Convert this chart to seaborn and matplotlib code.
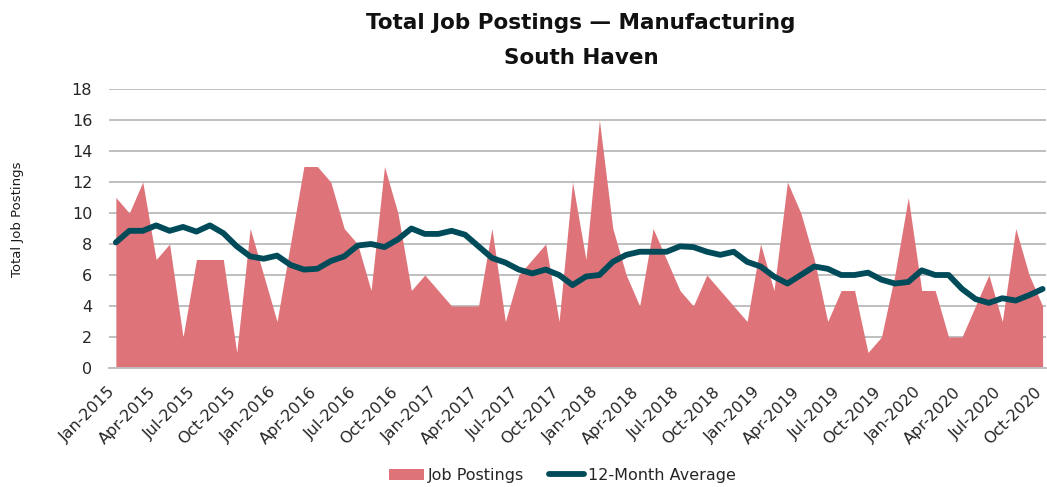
import numpy as np
import pandas as pd
import matplotlib
matplotlib.use("Agg")
import matplotlib.pyplot as plt
from matplotlib.patches import Patch
from matplotlib.lines import Line2D
import seaborn as sns

# Monthly categories, Jan-2015 through Oct-2020
months = pd.date_range("2015-01-01", "2020-10-01", freq="MS").strftime("%b-%Y").tolist()

# Monthly job postings
job_postings = [
    11, 10, 12, 7, 8, 2, 7, 7, 7, 1, 9, 6,
    3, 8, 13, 13, 12, 9, 8, 5, 13, 10, 5, 6,
    5, 4, 4, 4, 9, 3, 6, 7, 8, 3, 12, 7,
    16, 9, 6, 4, 9, 7, 5, 4, 6, 5, 4, 3,
    8, 5, 12, 10, 7, 3, 5, 5, 1, 2, 6, 11,
    5, 5, 2, 2, 4, 6, 3, 9, 6, 4,
]

# Rolling 12-month average
avg_12m = [
    8.1, 8.85, 8.85, 9.2, 8.85, 9.1, 8.8, 9.2, 8.7, 7.85, 7.2, 7.05,
    7.25, 6.65, 6.35, 6.4, 6.9, 7.2, 7.9, 8.0, 7.8, 8.3, 9.0, 8.65,
    8.65, 8.85, 8.6, 7.85, 7.1, 6.8, 6.35, 6.1, 6.35, 6.0, 5.35, 5.9,
    6.0, 6.85, 7.3, 7.5, 7.5, 7.5, 7.85, 7.8, 7.5, 7.3, 7.5, 6.85,
    6.55, 5.9, 5.45, 6.0, 6.55, 6.4, 6.0, 6.0, 6.15, 5.7, 5.45, 5.55,
    6.3, 6.0, 6.0, 5.1, 4.45, 4.2, 4.5, 4.35, 4.7, 5.1,
]

title_line1 = "Total Job Postings \u2014 Manufacturing"
title_line2 = "South Haven"
y_label = "Total Job Postings"
legend_labels = ["Job Postings", "12-Month Average"]

AREA_COLOR = "#DE7479"
LINE_COLOR = "#004B5A"
GRID_COLOR = "#BFBFBF"
TEXT_COLOR = "#262626"

df = pd.DataFrame({"idx": np.arange(len(months)), "month": months,
                   "postings": job_postings, "avg": avg_12m})

sns.set_theme(style="white")
plt.rcParams["font.family"] = ["DejaVu Sans"]

fig = plt.figure(figsize=(10.47, 4.87), dpi=100)
ax = fig.add_axes([0.104, 0.2444, 0.895, 0.5728])

ax.fill_between(df["idx"], 0, df["postings"], color=AREA_COLOR, linewidth=0, zorder=2)
sns.lineplot(data=df, x="idx", y="avg", ax=ax, color=LINE_COLOR, linewidth=4.2,
             solid_capstyle="round", solid_joinstyle="round", zorder=3, legend=False)

ax.set_xlim(-0.52, len(months) - 1 + 0.25)
ax.set_ylim(0, 18)
ax.set_yticks(np.arange(0, 19, 2))
ax.yaxis.grid(True, color=GRID_COLOR, linewidth=1.4, zorder=0)
ax.set_axisbelow(True)

# Month labels every quarter, rotated so each one ends at its tick
tick_pos = df["idx"].iloc[::3]
ax.set_xticks(tick_pos)
ax.set_xticklabels(df["month"].iloc[::3], rotation=45, ha="right", va="baseline",
                   rotation_mode="anchor", fontsize=11.5, color=TEXT_COLOR)
ax.tick_params(axis="x", length=0, pad=18)
ax.tick_params(axis="y", length=0, pad=12, labelsize=11.5, labelcolor=TEXT_COLOR)

for side in ["top", "right", "left"]:
    ax.spines[side].set_visible(False)
ax.spines["bottom"].set_color(GRID_COLOR)
ax.spines["bottom"].set_linewidth(1.4)

ax.set_xlabel("")
ax.set_ylabel("")
fig.text(0.017, 0.55, y_label, rotation=90, ha="center", va="center",
         fontsize=9.5, color="#1a1a1a")

fig.text(0.555, 0.952, title_line1, ha="center", va="center",
         fontsize=15.5, fontweight="bold", color="#111111")
fig.text(0.555, 0.880, title_line2, ha="center", va="center",
         fontsize=15.5, fontweight="bold", color="#111111")

handles = [Patch(facecolor=AREA_COLOR, edgecolor="none"),
           Line2D([0], [0], color=LINE_COLOR, linewidth=4.2, solid_capstyle="round")]
fig.legend(handles, legend_labels, loc="center", bbox_to_anchor=(0.537, 0.024),
           ncol=2, frameon=False, fontsize=11.5, handlelength=2.2,
           handletextpad=0.2, columnspacing=1.6)

fig.savefig("out.png", dpi=100)
